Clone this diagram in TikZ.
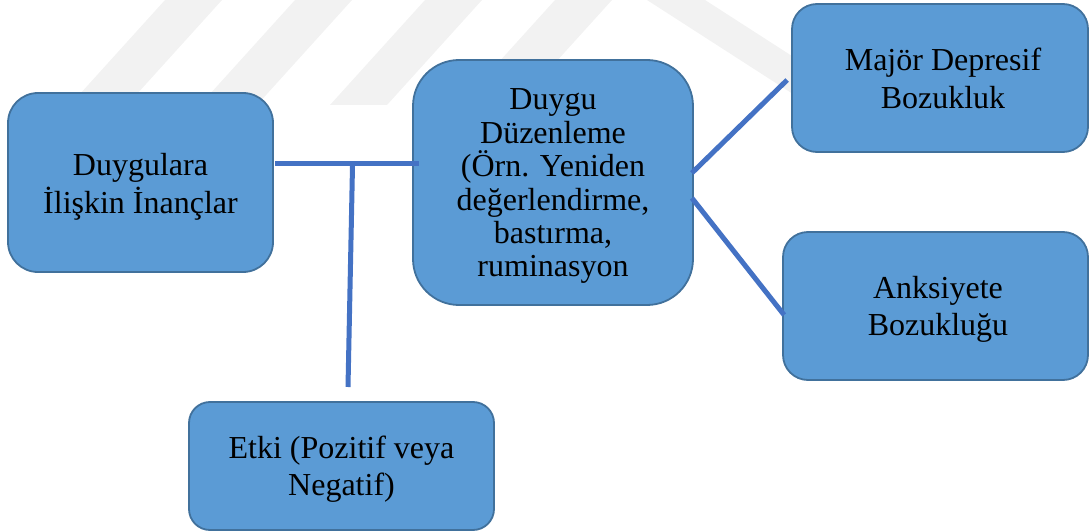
\documentclass[tikz,border=0pt]{standalone}
\usepackage{fontspec}
\setmainfont{Liberation Serif}
\usetikzlibrary{calc}
\definecolor{boxfill}{HTML}{5B9BD5}
\definecolor{boxline}{HTML}{41719C}
\definecolor{connline}{HTML}{4472C4}
\definecolor{wmark}{RGB}{242,242,242}
\tikzset{
  box/.style={draw=boxline, line width=1.8pt, fill=boxfill, rectangle, inner sep=0pt},
  boxtext/.style={align=center, inner sep=0pt, font=\fontsize{32}{#1}\selectfont},
  conn/.style={draw=connline, line width=5pt},
  wm/.style={fill=wmark, draw=none}
}
\begin{document}
\begin{tikzpicture}[x=1pt,y=-1pt]
\useasboundingbox (0,0) rectangle (1090,532);
% watermark
\fill[wm] (165,0) -- (222,0) -- (127,105) -- (70,105) -- cycle;
\fill[wm] (295,0) -- (352,0) -- (257,105) -- (200,105) -- cycle;
\fill[wm] (425,0) -- (482,0) -- (387,105) -- (330,105) -- cycle;
\fill[wm] (555,0) -- (612,0) -- (517,105) -- (460,105) -- cycle;
\fill[wm] (647,0) -- (705,0) -- (868,105) -- (810,105) -- cycle;
% boxes
\node[box, minimum width=265pt, minimum height=179pt, rounded corners=30pt] (A) at (140.5,182.5) {};
\node[box, minimum width=280pt, minimum height=245pt, rounded corners=46pt] (B) at (553,182.5) {};
\node[box, minimum width=296pt, minimum height=148pt, rounded corners=25pt] (C) at (940,78) {};
\node[box, minimum width=305pt, minimum height=148pt, rounded corners=25pt] (D) at (935.5,306) {};
\node[box, minimum width=305pt, minimum height=128pt, rounded corners=21pt] (E) at (341.5,466) {};
% texts
\node[boxtext=38] (tA) at (140.5,186.5) {Duygulara\\İlişkin İnançlar};
\node[boxtext=33.4] (tB) at (553,186.4) {Duygu\\Düzenleme\\(Örn. Yeniden\\değerlendirme,\\bastırma,\\ruminasyon};
\node[boxtext=38] (tC) at (943,78) {Majör Depresif\\Bozukluk};
\node[boxtext=37] (tD) at (938,309) {Anksiyete\\Bozukluğu};
\node[boxtext=37] (tE) at (341.5,469) {Etki (Pozitif veya\\Negatif)};
% connectors
\coordinate (junc) at (352.5,166);
\coordinate (vend) at (348,387);
\draw[conn] ($(A.east)+(1,-18.5)$) -- ($(B.west)+(7,-18.5)$);
\draw[conn] (junc) -- (vend);
\draw[conn] ($(B.east)+(-2,-9.5)$) -- ($(C.west)+(-4,2)$);
\draw[conn] ($(B.east)+(-2,15.5)$) -- ($(D.west)+(2,9)$);
\end{tikzpicture}
\end{document}
